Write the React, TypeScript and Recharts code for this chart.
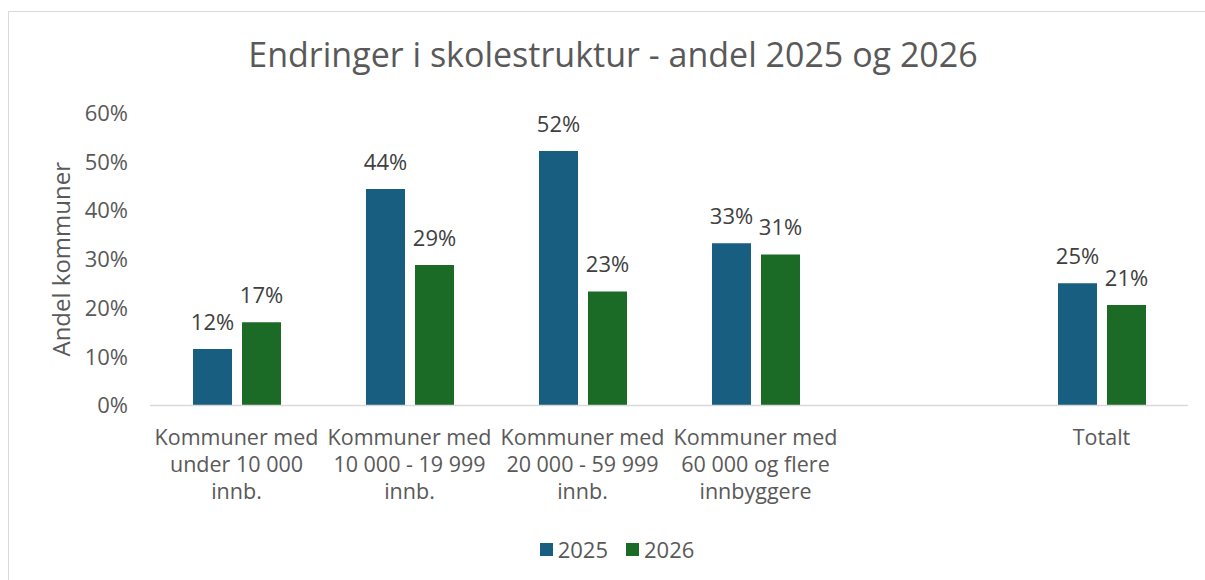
import React from 'react';
import { BarChart, Bar, XAxis, YAxis, LabelList } from 'recharts';

const categories = [
  'Kommuner med\nunder 10 000\ninnb.',
  'Kommuner med\n10 000 - 19 999\ninnb.',
  'Kommuner med\n20 000 - 59 999\ninnb.',
  'Kommuner med\n60 000 og flere\ninnbyggere',
  '',
  'Totalt',
];
const values2025: (number | null)[] = [11.6, 44.4, 52.2, 33.3, null, 25.1];
const values2026: (number | null)[] = [17.1, 28.8, 23.4, 31.0, null, 20.6];
const yTicks = [0, 10, 20, 30, 40, 50, 60];
const seriesNames = ['2025', '2026'];

const COLOR_2025 = '#175e80';
const COLOR_2026 = '#1b6b27';
const FONT = '"Open Sans", sans-serif';

const data = categories.map((c, i) => ({
  category: c,
  y2025: values2025[i],
  y2026: values2026[i],
}));

const CategoryTick = (props: any) => {
  const { x, y, payload } = props;
  const lines = String(payload.value).split('\n');
  return (
    <text
      x={x}
      y={y}
      textAnchor="middle"
      fill="#595959"
      fontSize={21.5}
      fontFamily={FONT}
    >
      {lines.map((l, i) => (
        <tspan key={i} x={x} dy={i === 0 ? 39 : 27}>
          {l}
        </tspan>
      ))}
    </text>
  );
};

const LegendBox = () => {
  const items = [
    { name: seriesNames[0], color: COLOR_2025 },
    { name: seriesNames[1], color: COLOR_2026 },
  ];
  return (
    <div
      style={{
        position: 'absolute',
        left: 0,
        top: 537,
        width: 1234,
        height: 24,
        display: 'flex',
        justifyContent: 'center',
        alignItems: 'center',
        fontFamily: FONT,
        fontSize: 22,
        lineHeight: '24px',
        color: '#595959',
        gap: 18,
      }}
    >
      {items.map((it) => (
        <div key={it.name} style={{ display: 'flex', alignItems: 'center' }}>
          <div style={{ width: 13, height: 13, background: it.color, marginRight: 5 }} />
          <span>{it.name}</span>
        </div>
      ))}
    </div>
  );
};

const fmt = (v: any) => (v == null ? '' : `${Math.round(Number(v))}%`);

export default function App() {
  return (
    <div style={{ position: 'absolute', left: 0, top: 0, width: 1205, height: 580, background: '#fff', overflow: 'hidden' }}>
      <div
        style={{
          position: 'absolute',
          left: 8,
          top: 11,
          width: 1230,
          height: 600,
          border: '1px solid #d9d9d9',
          boxSizing: 'border-box',
        }}
      />
      <div style={{ position: 'absolute', left: 0, top: 0 }}>
        <BarChart
          width={1205}
          height={580}
          data={data}
          margin={{ top: 113, right: 17, bottom: 144.5, left: 0 }}
          barSize={39}
          barGap={10}
        >
          <text
            x={613}
            y={67}
            textAnchor="middle"
            fill="#595959"
            fontSize={34}
            fontFamily={FONT}
          >
            Endringer i skolestruktur - andel 2025 og 2026
          </text>
          <XAxis
            dataKey="category"
            interval={0}
            height={30}
            tickLine={false}
            tickSize={0}
            tickMargin={0}
            axisLine={{ stroke: '#d9d9d9', strokeWidth: 1.5 }}
            tick={<CategoryTick />}
          />
          <YAxis
            width={150}
            domain={[0, 60]}
            ticks={yTicks}
            tickFormatter={(v: number) => `${v}%`}
            axisLine={false}
            tickLine={false}
            tickSize={0}
            tickMargin={22}
            tick={{ fill: '#595959', fontSize: 22, fontFamily: FONT }}
            label={{
              value: 'Andel kommuner',
              angle: -90,
              position: 'insideLeft',
              offset: 61,
              style: { textAnchor: 'middle', fill: '#595959', fontSize: 24, fontFamily: FONT },
            }}
          />
          <Bar dataKey="y2025" name={seriesNames[0]} fill={COLOR_2025} isAnimationActive={false}>
            <LabelList
              dataKey="y2025"
              position="top"
              offset={19}
              formatter={fmt}
              fill="#404040"
              fontSize={22}
              fontFamily={FONT}
            />
          </Bar>
          <Bar dataKey="y2026" name={seriesNames[1]} fill={COLOR_2026} isAnimationActive={false}>
            <LabelList
              dataKey="y2026"
              position="top"
              offset={19}
              formatter={fmt}
              fill="#404040"
              fontSize={22}
              fontFamily={FONT}
            />
          </Bar>
        </BarChart>
      </div>
      <LegendBox />
    </div>
  );
}
